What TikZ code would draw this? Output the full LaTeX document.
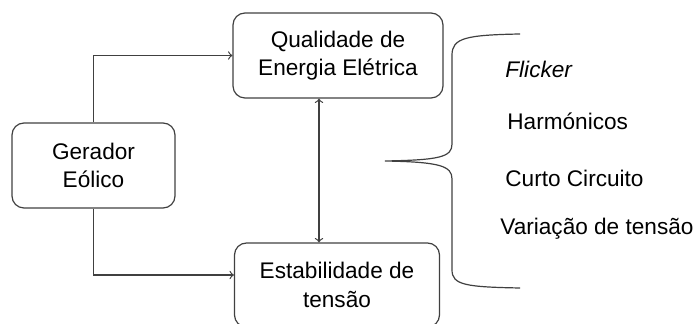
\documentclass[tikz,border=0pt]{standalone}
\usepackage{fontspec}
\setmainfont{Liberation Sans}
\usepackage{tikz}

\tikzset{
    bloco/.style={draw=black!75, line width=0.6pt, rounded corners=6pt, align=center,
        font=\fontsize{11.3}{14.3}\selectfont},
    seta/.style={draw=black!75, line width=0.6pt, -to},
    item/.style={anchor=base west, inner sep=0pt, font=\fontsize{11.3}{14.3}\selectfont}
}

\begin{document}
\begin{tikzpicture}[x=0.5pt,y=-0.5pt]
    \useasboundingbox (0,0) rectangle (699,324);
    \node[bloco, minimum width=81.5pt, minimum height=42.5pt] (gerador) at (93.5,165.5) {Gerador\\E\'olico};
    \node[bloco, minimum width=105pt, minimum height=42.5pt] (qualidade) at (338,55.5) {Qualidade de\\Energia El\'etrica};
    \node[bloco, minimum width=102.5pt, minimum height=42pt] (estab) at (337,285) {Estabilidade de\\tens\~ao};

    \draw[seta] (gerador.north) |- (qualidade.west);
    \draw[seta] (gerador.south) |- ([yshift=5pt]estab.west);
    \draw[seta, to-to] ([xshift=-9.5pt]qualidade.south) -- ([xshift=-9.5pt]qualidade.south |- estab.north);

    % chave
    \draw[draw=black!75, line width=0.6pt] (520,34) .. controls (466,35) and (452,38) .. (452,55)
        -- (452,144) .. controls (452,157) and (440,160) .. (385,161)
        .. controls (440,162) and (452,166) .. (452,179)
        -- (452,270) .. controls (452,285) and (466,287) .. (520,288);

    \node[item] (flicker) at (505,78) {\itshape Flicker};
    \node[item] (harm) at (507,130) {Harm\'onicos};
    \node[item] (curto) at (505,187) {Curto Circuito};
    \node[item] (variacao) at (500,235) {Varia\c{c}\~ao de tens\~ao};
\end{tikzpicture}
\end{document}
